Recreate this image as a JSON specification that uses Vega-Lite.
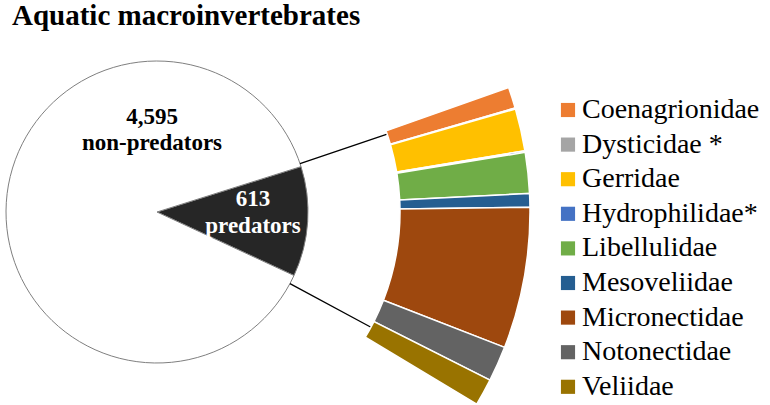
{
  "$schema": "https://vega.github.io/schema/vega-lite/v6.json",
  "width": 302,
  "height": 302,
  "autosize": {"type": "none"},
  "padding": {"left": 6, "top": 61, "right": 462, "bottom": 42},
  "background": "white",
  "title": {
    "text": "Aquatic macroinvertebrates",
    "anchor": "start",
    "frame": "group",
    "font": "Liberation Serif",
    "fontSize": 29,
    "fontWeight": "bold",
    "color": "black",
    "baseline": "alphabetic",
    "offset": 5,
    "dx": 6
  },
  "config": {"view": {"stroke": null}},
  "resolve": {"scale": {"theta": "independent", "color": "independent"}},
  "layer": [
    {
      "data": {"values": [
        {"group": "predators", "count": 613, "o": 1},
        {"group": "non-predators", "count": 4595, "o": 2}
      ]},
      "mark": {"type": "arc", "radius": 151, "stroke": "#7f7f7f", "strokeWidth": 1},
      "encoding": {
        "theta": {"field": "count", "type": "quantitative", "stack": true, "scale": {"range": [1.2654, 7.5486]}},
        "order": {"field": "o", "type": "quantitative"},
        "color": {"field": "group", "type": "nominal", "scale": {"domain": ["predators", "non-predators"], "range": ["#262626", "#ffffff"]}, "legend": null}
      }
    },
    {
      "data": {"values": [
        {"edge": 0},
        {"edge": 613}
      ]},
      "mark": {"type": "arc", "radius": 243, "radius2": 151, "filled": false, "stroke": "black", "strokeWidth": 1.3},
      "encoding": {
        "theta": {"field": "edge", "type": "quantitative", "stack": null, "scale": {"domain": [0, 613], "range": [1.2444, 2.0647]}},
        "theta2": {"field": "edge"}
      }
    },
    {
      "data": {"values": [
        {"family": "Coenagrionidae", "count": 40, "o": 1},
        {"family": "Dysticidae *", "count": 2, "o": 2},
        {"family": "Gerridae", "count": 80, "o": 3},
        {"family": "Hydrophilidae*", "count": 3, "o": 4},
        {"family": "Libellulidae", "count": 77, "o": 5},
        {"family": "Mesoveliidae", "count": 26, "o": 6},
        {"family": "Micronectidae", "count": 267, "o": 7},
        {"family": "Notonectidae", "count": 67, "o": 8},
        {"family": "Veliidae", "count": 51, "o": 9}
      ]},
      "mark": {"type": "arc", "radius": 373, "radius2": 243, "stroke": "white", "strokeWidth": 1.5},
      "encoding": {
        "theta": {"field": "count", "type": "quantitative", "stack": true, "scale": {"domain": [0, 613], "range": [1.2305, 2.1118]}},
        "order": {"field": "o", "type": "quantitative"},
        "color": {
          "field": "family", "type": "nominal",
          "scale": {
            "domain": ["Coenagrionidae", "Dysticidae *", "Gerridae", "Hydrophilidae*", "Libellulidae", "Mesoveliidae", "Micronectidae", "Notonectidae", "Veliidae"],
            "range": ["#ED7D31", "#A5A5A5", "#FFC000", "#4472C4", "#70AD47", "#255E91", "#9E480E", "#636363", "#997300"]
          },
          "legend": {
            "title": null,
            "orient": "none",
            "legendX": 548,
            "legendY": 35,
            "padding": 0,
            "symbolType": "square",
            "symbolSize": 200,
            "symbolStrokeWidth": 0,
            "labelFont": "Liberation Serif",
            "labelFontSize": 28,
            "labelColor": "black",
            "labelLimit": 400,
            "labelOffset": 0,
            "rowPadding": 6.6
          }
        }
      }
    },
    {
      "data": {"values": [
        {"group": "predators", "label": "613\npredators"}
      ]},
      "mark": {"type": "text", "theta": 1.4362, "radius": 96.9, "font": "Liberation Serif", "fontSize": 23, "fontWeight": "bold", "fill": "white", "lineBreak": "\n", "align": "center", "baseline": "middle", "lineHeight": 27},
      "encoding": {"text": {"field": "label"}}
    },
    {
      "data": {"values": [
        {"group": "non-predators", "label": "4,595\nnon-predators"}
      ]},
      "mark": {"type": "text", "theta": -0.0526, "radius": 95.1, "font": "Liberation Serif", "fontSize": 23, "fontWeight": "bold", "fill": "black", "lineBreak": "\n", "align": "center", "baseline": "middle", "lineHeight": 26},
      "encoding": {"text": {"field": "label"}}
    }
  ]
}
